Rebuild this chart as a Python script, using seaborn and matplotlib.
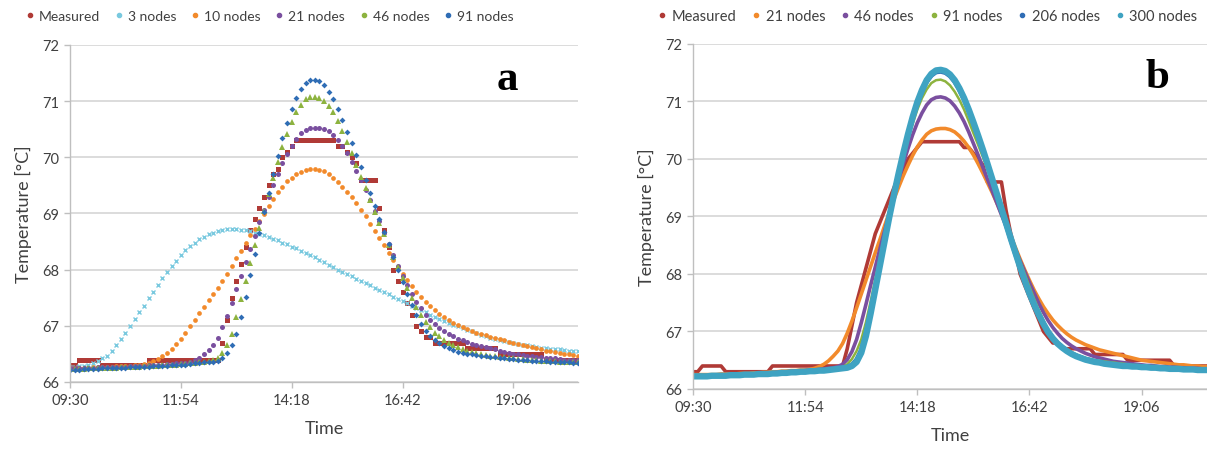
import matplotlib
matplotlib.use("Agg")
import matplotlib.pyplot as plt
import seaborn as sns
import pandas as pd
from matplotlib.lines import Line2D

# ---------------- data ----------------
STEP_MIN = 6                      # sampling interval of the series (minutes)
START_LABEL = "09:30"
TIME_TICKS = ["09:30", "11:54", "14:18", "16:42", "19:06"]
END_LABEL = "20:30"
Y_TICKS = [66, 67, 68, 69, 70, 71, 72]

measured = [
    66.3, 66.3, 66.4, 66.4, 66.4, 66.4, 66.4, 66.3, 66.3, 66.3,
    66.3, 66.3, 66.3, 66.3, 66.3, 66.3, 66.3, 66.4, 66.4, 66.4,
    66.4, 66.4, 66.4, 66.4, 66.4, 66.4, 66.4, 66.4, 66.4, 66.4,
    66.4, 66.4, 66.4, 66.7, 67.1, 67.5, 67.8, 68.1, 68.4, 68.7,
    68.9, 69.1, 69.3, 69.5, 69.7, 69.8, 70.0, 70.1, 70.2, 70.3,
    70.3, 70.3, 70.3, 70.3, 70.3, 70.3, 70.3, 70.3, 70.2, 70.2,
    70.1, 70.0, 69.9, 69.6, 69.6, 69.6, 69.6, 69.1, 68.7, 68.4,
    68.0, 67.8, 67.6, 67.4, 67.2, 67.0, 66.9, 66.8, 66.8, 66.7,
    66.7, 66.7, 66.7, 66.7, 66.7, 66.7, 66.6, 66.6, 66.6, 66.6,
    66.6, 66.6, 66.6, 66.5, 66.5, 66.5, 66.5, 66.5, 66.5, 66.5,
    66.5, 66.5, 66.5, 66.4, 66.4, 66.4, 66.4, 66.4, 66.4, 66.4,
    66.4]

nodes3 = [
    66.27, 66.27, 66.28, 66.29, 66.31, 66.34, 66.37, 66.42, 66.47, 66.56,
    66.66, 66.77, 66.88, 67.00, 67.12, 67.24, 67.36, 67.49, 67.61, 67.73,
    67.85, 67.96, 68.06, 68.16, 68.26, 68.35, 68.42, 68.48, 68.54, 68.59,
    68.63, 68.66, 68.69, 68.71, 68.72, 68.72, 68.72, 68.71, 68.70, 68.68,
    68.66, 68.64, 68.61, 68.58, 68.55, 68.52, 68.48, 68.45, 68.41, 68.38,
    68.34, 68.30, 68.26, 68.22, 68.17, 68.13, 68.09, 68.04, 68.00, 67.96,
    67.92, 67.88, 67.84, 67.80, 67.76, 67.72, 67.68, 67.64, 67.60, 67.56,
    67.52, 67.48, 67.44, 67.40, 67.36, 67.32, 67.28, 67.24, 67.20, 67.16,
    67.13, 67.09, 67.05, 67.02, 66.99, 66.96, 66.93, 66.90, 66.87, 66.84,
    66.82, 66.79, 66.77, 66.75, 66.73, 66.71, 66.69, 66.68, 66.66, 66.65,
    66.64, 66.62, 66.61, 66.60, 66.59, 66.58, 66.58, 66.57, 66.56, 66.56,
    66.55]

nodes10 = [
    66.25, 66.25, 66.25, 66.25, 66.25, 66.26, 66.26, 66.26, 66.27, 66.27,
    66.28, 66.28, 66.29, 66.29, 66.30, 66.31, 66.32, 66.34, 66.37, 66.41,
    66.46, 66.52, 66.59, 66.67, 66.77, 66.88, 67.00, 67.11, 67.23, 67.34,
    67.46, 67.57, 67.68, 67.80, 67.93, 68.06, 68.20, 68.34, 68.48, 68.61,
    68.73, 68.86, 68.99, 69.13, 69.26, 69.38, 69.48, 69.57, 69.64, 69.70,
    69.74, 69.78, 69.80, 69.80, 69.78, 69.75, 69.70, 69.64, 69.56, 69.48,
    69.39, 69.29, 69.18, 69.07, 68.95, 68.82, 68.69, 68.56, 68.43, 68.30,
    68.17, 68.05, 67.93, 67.82, 67.71, 67.61, 67.52, 67.43, 67.35, 67.28,
    67.21, 67.15, 67.10, 67.05, 67.01, 66.97, 66.94, 66.91, 66.88, 66.85,
    66.83, 66.80, 66.78, 66.76, 66.74, 66.72, 66.70, 66.68, 66.66, 66.64,
    66.62, 66.60, 66.58, 66.56, 66.55, 66.53, 66.52, 66.50, 66.49, 66.48,
    66.47]

nodes21 = [
    66.25, 66.25, 66.25, 66.25, 66.25, 66.25, 66.26, 66.26, 66.26, 66.26,
    66.27, 66.27, 66.27, 66.28, 66.28, 66.29, 66.29, 66.30, 66.30, 66.31,
    66.31, 66.32, 66.32, 66.33, 66.33, 66.34, 66.36, 66.39, 66.43, 66.49,
    66.57, 66.66, 66.79, 66.97, 67.18, 67.41, 67.65, 67.89, 68.13, 68.37,
    68.60, 68.84, 69.07, 69.30, 69.51, 69.71, 69.89, 70.06, 70.21, 70.33,
    70.43, 70.49, 70.52, 70.53, 70.53, 70.51, 70.47, 70.40, 70.31, 70.20,
    70.07, 69.92, 69.76, 69.59, 69.42, 69.24, 69.05, 68.86, 68.66, 68.46,
    68.26, 68.07, 67.89, 67.72, 67.57, 67.43, 67.31, 67.20, 67.11, 67.03,
    66.96, 66.90, 66.85, 66.81, 66.77, 66.74, 66.71, 66.68, 66.66, 66.64,
    66.62, 66.60, 66.58, 66.56, 66.54, 66.52, 66.50, 66.49, 66.48, 66.47,
    66.46, 66.45, 66.44, 66.43, 66.42, 66.42, 66.41, 66.40, 66.40, 66.39,
    66.39]

nodes46 = [
    66.23, 66.23, 66.23, 66.23, 66.24, 66.24, 66.24, 66.24, 66.25, 66.25,
    66.25, 66.26, 66.26, 66.26, 66.27, 66.27, 66.28, 66.28, 66.29, 66.29,
    66.30, 66.30, 66.31, 66.31, 66.32, 66.32, 66.33, 66.34, 66.35, 66.36,
    66.37, 66.39, 66.43, 66.51, 66.65, 66.86, 67.15, 67.47, 67.80, 68.12,
    68.44, 68.75, 69.05, 69.35, 69.64, 69.92, 70.18, 70.42, 70.63, 70.80,
    70.94, 71.03, 71.07, 71.08, 71.06, 71.01, 70.92, 70.80, 70.65, 70.47,
    70.27, 70.07, 69.86, 69.65, 69.45, 69.24, 69.03, 68.83, 68.63, 68.43,
    68.23, 68.04, 67.85, 67.67, 67.49, 67.33, 67.19, 67.07, 66.97, 66.88,
    66.81, 66.75, 66.70, 66.66, 66.62, 66.59, 66.56, 66.54, 66.52, 66.50,
    66.48, 66.47, 66.46, 66.45, 66.44, 66.43, 66.42, 66.41, 66.41, 66.40,
    66.39, 66.39, 66.38, 66.38, 66.37, 66.37, 66.36, 66.36, 66.36, 66.35,
    66.35]

nodes91 = [
    66.22, 66.22, 66.22, 66.23, 66.23, 66.23, 66.23, 66.24, 66.24, 66.24,
    66.25, 66.25, 66.25, 66.26, 66.26, 66.26, 66.27, 66.27, 66.28, 66.28,
    66.29, 66.29, 66.30, 66.30, 66.31, 66.31, 66.32, 66.33, 66.34, 66.35,
    66.35, 66.36, 66.38, 66.43, 66.52, 66.66, 66.86, 67.16, 67.52, 67.90,
    68.28, 68.66, 69.03, 69.37, 69.71, 70.03, 70.34, 70.61, 70.86, 71.06,
    71.21, 71.32, 71.37, 71.38, 71.35, 71.28, 71.17, 71.03, 70.86, 70.66,
    70.45, 70.25, 70.04, 69.82, 69.59, 69.36, 69.13, 68.90, 68.67, 68.45,
    68.22, 68.00, 67.78, 67.57, 67.37, 67.19, 67.03, 66.90, 66.82, 66.75,
    66.69, 66.64, 66.60, 66.57, 66.54, 66.52, 66.50, 66.49, 66.48, 66.47,
    66.46, 66.45, 66.44, 66.43, 66.42, 66.41, 66.41, 66.40, 66.39, 66.39,
    66.38, 66.38, 66.37, 66.37, 66.36, 66.36, 66.35, 66.35, 66.35, 66.34,
    66.34]

nodes206 = [
    66.22, 66.22, 66.22, 66.22, 66.23, 66.23, 66.23, 66.23, 66.24, 66.24,
    66.24, 66.25, 66.25, 66.25, 66.26, 66.26, 66.26, 66.27, 66.27, 66.28,
    66.28, 66.29, 66.29, 66.30, 66.30, 66.31, 66.31, 66.32, 66.32, 66.33,
    66.34, 66.35, 66.36, 66.38, 66.42, 66.51, 66.68, 66.96, 67.35, 67.76,
    68.17, 68.59, 69.00, 69.38, 69.74, 70.09, 70.41, 70.71, 70.96, 71.17,
    71.34, 71.45, 71.51, 71.52, 71.50, 71.44, 71.34, 71.20, 71.03, 70.83,
    70.61, 70.38, 70.14, 69.89, 69.63, 69.37, 69.11, 68.85, 68.59, 68.34,
    68.10, 67.86, 67.64, 67.44, 67.27, 67.12, 66.99, 66.89, 66.80, 66.73,
    66.67, 66.62, 66.58, 66.55, 66.52, 66.50, 66.48, 66.46, 66.45, 66.44,
    66.43, 66.42, 66.41, 66.40, 66.40, 66.39, 66.39, 66.38, 66.38, 66.37,
    66.37, 66.36, 66.36, 66.36, 66.35, 66.35, 66.34, 66.34, 66.34, 66.33,
    66.33]

nodes300 = [
    66.22, 66.22, 66.22, 66.22, 66.23, 66.23, 66.23, 66.23, 66.24, 66.24,
    66.24, 66.25, 66.25, 66.25, 66.26, 66.26, 66.26, 66.27, 66.27, 66.28,
    66.28, 66.29, 66.29, 66.30, 66.30, 66.31, 66.31, 66.32, 66.32, 66.33,
    66.34, 66.35, 66.36, 66.37, 66.40, 66.47, 66.63, 66.92, 67.31, 67.73,
    68.15, 68.57, 68.99, 69.38, 69.75, 70.10, 70.43, 70.73, 70.99, 71.20,
    71.37, 71.48, 71.54, 71.55, 71.53, 71.47, 71.37, 71.23, 71.06, 70.86,
    70.64, 70.41, 70.17, 69.92, 69.66, 69.40, 69.14, 68.88, 68.62, 68.37,
    68.12, 67.88, 67.66, 67.47, 67.29, 67.13, 66.99, 66.88, 66.79, 66.72,
    66.66, 66.61, 66.57, 66.54, 66.51, 66.49, 66.47, 66.46, 66.44, 66.43,
    66.42, 66.41, 66.40, 66.40, 66.39, 66.39, 66.38, 66.38, 66.37, 66.37,
    66.36, 66.36, 66.35, 66.35, 66.35, 66.34, 66.34, 66.34, 66.33, 66.33,
    66.33]


def to_min(label):
    h, m = label.split(":")
    return int(h) * 60 + int(m)


t0 = to_min(START_LABEL)
minutes = [i * STEP_MIN for i in range(len(measured))]
tick_pos = [to_min(s) - t0 for s in TIME_TICKS]
x_end = to_min(END_LABEL) - t0

df = pd.DataFrame({
    "minutes": minutes, "Measured": measured, "3 nodes": nodes3,
    "10 nodes": nodes10, "21 nodes": nodes21, "46 nodes": nodes46,
    "91 nodes": nodes91, "206 nodes": nodes206, "300 nodes": nodes300,
})

# ---------------- style ----------------
sns.set_theme(style="white")
plt.rcParams['font.family'] = ['Lato', 'DejaVu Sans']

TXT = '#404040'
GRID = '#D9D9D9'
AXC = '#BFBFBF'
RED = '#B03A36'
CYAN_L = '#79C9DF'
ORANGE = '#F28A2B'
PURPLE = '#7A4F9F'
GREEN = '#8DB33F'
BLUE = '#2F6DB5'
TEAL = '#3FA3C2'

fig = plt.figure(figsize=(12.07, 4.52), dpi=100)
ax_a = fig.add_axes([0.0580, 0.1527, 0.4209, 0.7456])
ax_b = fig.add_axes([0.5742, 0.1372, 0.4258, 0.7633])

# panel a: markers only
spec_a = [
    ("Measured", RED, 's', 3.6, 0.0),
    ("3 nodes", CYAN_L, 'x', 3.2, 1.0),
    ("10 nodes", ORANGE, 'o', 3.4, 0.0),
    ("21 nodes", PURPLE, 'o', 3.6, 0.0),
    ("46 nodes", GREEN, '^', 3.8, 0.0),
    ("91 nodes", BLUE, 'D', 3.0, 0.0),
]
for name, col, mk, ms, mew in spec_a:
    sns.lineplot(data=df, x="minutes", y=name, ax=ax_a, color=col,
                 marker=mk, markersize=ms, linestyle='none',
                 markeredgewidth=mew, markeredgecolor=col, label=name)

# panel b: lines
spec_b = [
    ("Measured", RED, 2.6),
    ("21 nodes", ORANGE, 2.6),
    ("46 nodes", PURPLE, 2.6),
    ("91 nodes", GREEN, 1.8),
    ("206 nodes", BLUE, 3.2),
    ("300 nodes", TEAL, 4.6),
]
for name, col, lw in spec_b:
    sns.lineplot(data=df, x="minutes", y=name, ax=ax_b, color=col,
                 linewidth=lw, label=name)

for ax in (ax_a, ax_b):
    ax.set_xlim(0, x_end)
    ax.set_ylim(Y_TICKS[0], Y_TICKS[-1])
    ax.set_xticks(tick_pos)
    ax.set_xticklabels(TIME_TICKS)
    ax.set_yticks(Y_TICKS)
    ax.set_yticklabels([str(v) for v in Y_TICKS])
    ax.yaxis.grid(True, color=GRID, linewidth=1.3)
    ax.xaxis.grid(False)
    ax.set_axisbelow(True)
    for s in ("top", "right"):
        ax.spines[s].set_visible(False)
    for s in ("left", "bottom"):
        ax.spines[s].set_color(AXC)
        ax.spines[s].set_linewidth(1.0)
    ax.tick_params(axis='both', which='major', length=4, width=1, color=AXC,
                   labelcolor=TXT, labelsize=10.5, direction='out', pad=4)
    ax.tick_params(axis='x', bottom=True)
    ax.tick_params(axis='y', left=True)
    ax.set_xlabel("Time", fontsize=13, color=TXT, labelpad=9)
    ax.set_ylabel("Temperature [°C]", fontsize=13, color=TXT, labelpad=7)
    leg = ax.get_legend()
    if leg is not None:
        leg.remove()

# legends (dot markers like the reference)
ha, la = ax_a.get_legend_handles_labels()
ha_dots = [Line2D([], [], linestyle='none', marker='o', markersize=3.0,
                  color=h.get_color()) for h in ha]
fig.legend(ha_dots, la, loc='center', bbox_to_anchor=(270 / 1207, 1 - 17 / 452),
           ncol=6, frameon=False, handlelength=0.5, handletextpad=0.4,
           columnspacing=1.1, fontsize=10, labelcolor=TXT)

hb, lb = ax_b.get_legend_handles_labels()
hb_dots = [Line2D([], [], linestyle='none', marker='o', markersize=3.0,
                  color=h.get_color()) for h in hb]
fig.legend(hb_dots, lb, loc='center', bbox_to_anchor=(928 / 1207, 1 - 17 / 452),
           ncol=6, frameon=False, handlelength=0.5, handletextpad=0.4,
           columnspacing=1.1, fontsize=10.5, labelcolor=TXT)

# panel letters
fig.text(507 / 1207, 1 - 90 / 452, "a", family=['Liberation Serif', 'DejaVu Serif'],
         fontweight='bold', fontsize=31, ha='center', va='baseline', color='black')
fig.text(1157 / 1207, 1 - 88 / 452, "b", family=['Liberation Serif', 'DejaVu Serif'],
         fontweight='bold', fontsize=31, ha='center', va='baseline', color='black')

fig.savefig("out.png", dpi=100)
